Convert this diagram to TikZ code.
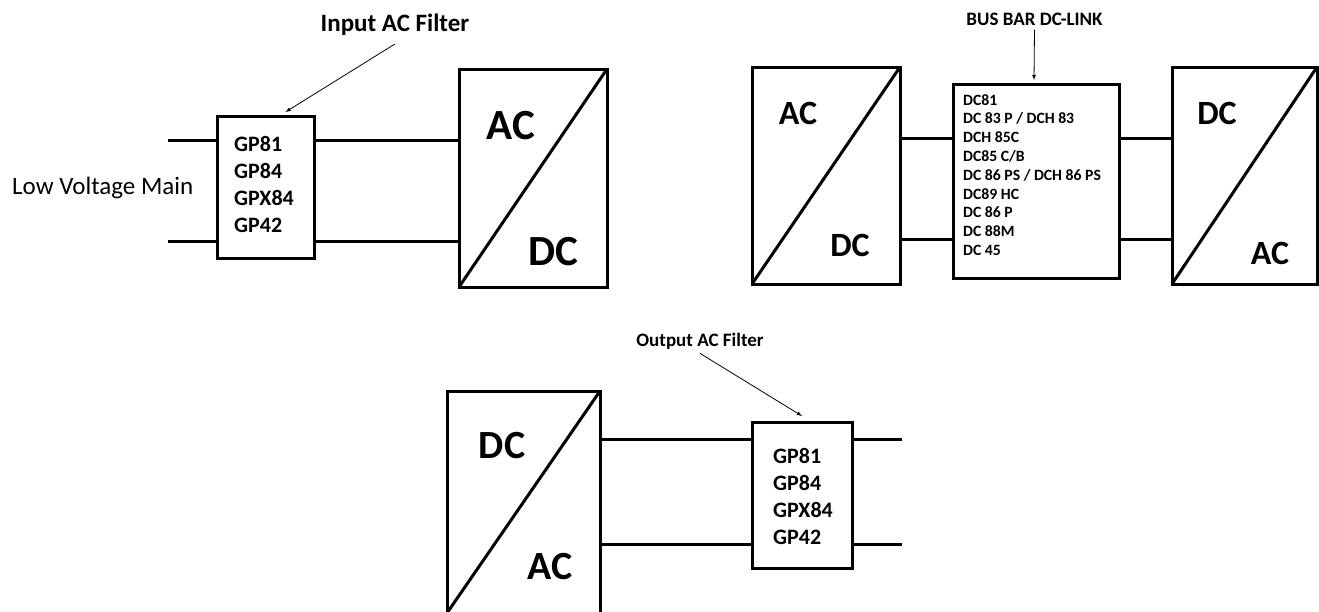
\documentclass[tikz,border=0pt]{standalone}
\usepackage{fontspec}
\setmainfont{Carlito}
\usetikzlibrary{positioning}

\begin{document}
\begin{tikzpicture}[x=1pt, y=-1pt,
  box/.style={draw, line width=3pt, inner sep=0pt, outer sep=0pt},
  wire/.style={line width=3pt},
  pointer/.style={->, >=latex, line width=0.8pt},
  cvtext/.style={font=\bfseries\fontsize{#1}{#1}\selectfont, inner sep=0pt},
  listtext/.style={anchor=west, align=left, inner sep=0pt}
]

\useasboundingbox (0,0) rectangle (1319,611);
\clip (0,0) rectangle (1319,611);

% Input side: filter and AC/DC converter
\node [box, minimum width=97, minimum height=142] (filtIn) at (265.5,187) {};
\node [box, minimum width=148, minimum height=218] (acdcIn) at (533,178) {};
\draw [wire] (acdcIn.south west) -- (acdcIn.north east);
\node [cvtext=43] (acIn) at (511,126) {AC};
\node [cvtext=43] (dcIn) at (553,252) {DC};

\node [listtext, font=\bfseries\fontsize{22}{27}\selectfont] (gpIn) at (234,184) {GP81\\GP84\\GPX84\\GP42};

\node [anchor=west, inner sep=0pt, font=\fontsize{25}{25}\selectfont] (lvMain) at (12,188) {Low Voltage Main};

\coordinate (mainA) at (168,140);
\coordinate (mainB) at (168,241);
\draw [wire] (mainA) -- (mainA -| filtIn.west);
\draw [wire] (mainB) -- (mainB -| filtIn.west);
\draw [wire] (filtIn.east |- mainA) -- (acdcIn.west |- mainA);
\draw [wire] (filtIn.east |- mainB) -- (acdcIn.west |- mainB);

\node [cvtext=25] (inTitle) at (395,25) {Input AC Filter};
\draw [pointer] ([yshift=-8pt]inTitle.south) -- ([xshift=20pt,yshift=4pt]filtIn.north);

% DC link between the two converters
\node [box, minimum width=148, minimum height=217] (acdcMid) at (826,175.5) {};
\draw [wire] (acdcMid.south west) -- (acdcMid.north east);
\node [cvtext=34] (acMid) at (798,113) {AC};
\node [cvtext=34] (dcMid) at (850,245) {DC};

\node [box, minimum width=166, minimum height=194] (link) at (1036,181) {};
\node [listtext, font=\bfseries\fontsize{15.7}{18.8}\selectfont] (dcList) at (963,175) {DC81\\DC 83 P / DCH 83\\DCH 85C\\DC85 C/B\\DC 86 PS / DCH 86 PS\\DC89 HC\\DC 86 P\\DC 88M\\DC 45};

\node [box, minimum width=145, minimum height=217] (dcacMid) at (1244.5,175.5) {};
\draw [wire] (dcacMid.south west) -- (dcacMid.north east);
\node [cvtext=34] (dcOut) at (1217,113) {DC};
\node [cvtext=34] (acOut) at (1270,253) {AC};

\coordinate (busA) at (900,138);
\coordinate (busB) at (900,239);
\draw [wire] (acdcMid.east |- busA) -- (link.west |- busA);
\draw [wire] (acdcMid.east |- busB) -- (link.west |- busB);
\draw [wire] (link.east |- busA) -- (dcacMid.west |- busA);
\draw [wire] (link.east |- busB) -- (dcacMid.west |- busB);

\node [cvtext=19] (busTitle) at (1034.5,19) {BUS BAR DC-LINK};
\draw [pointer] ([yshift=-4pt]busTitle.south) -- ([xshift=-2pt,yshift=4pt]link.north);

% Output side: DC/AC converter and filter
\node [box, minimum width=153, minimum height=222] (dcacLow) at (523.5,502) {};
\draw [wire] (dcacLow.south west) -- (dcacLow.north east);
\node [cvtext=40] (dcLow) at (502,446) {DC};
\node [cvtext=40] (acLow) at (550,567) {AC};

\node [box, minimum width=100, minimum height=146] (filtOut) at (802,495) {};
\node [listtext, font=\bfseries\fontsize{22}{27}\selectfont] (gpOut) at (773,496.5) {GP81\\GP84\\GPX84\\GP42};

\coordinate (lineA) at (902,439);
\coordinate (lineB) at (902,544);
\draw [wire] (dcacLow.east |- lineA) -- (filtOut.west |- lineA);
\draw [wire] (dcacLow.east |- lineB) -- (filtOut.west |- lineB);
\draw [wire] (filtOut.east |- lineA) -- (lineA);
\draw [wire] (filtOut.east |- lineB) -- (lineB);

\node [cvtext=19] (outTitle) at (700,341) {Output AC Filter};
\draw [pointer] ([yshift=-4pt]outTitle.south) -- ([yshift=6pt]filtOut.north);

\end{tikzpicture}
\end{document}
